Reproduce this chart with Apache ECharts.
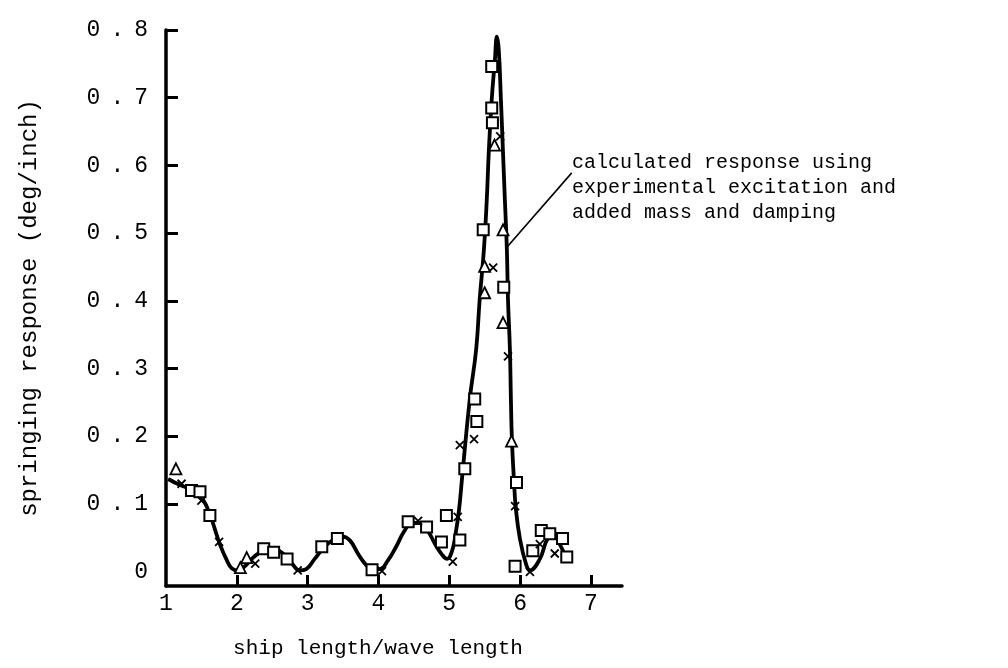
<!DOCTYPE html>
<html>
<head>
<meta charset="utf-8">
<script src="https://cdn.jsdelivr.net/npm/echarts@6/dist/echarts.min.js"></script>
<style>
  html, body { margin: 0; padding: 0; background: #fff; }
  #chart { width: 1008px; height: 668px; }
</style>
</head>
<body>
<div id="chart"></div>
<script>
// Calculated springing response curve
const curveX = [1.03, 1.20, 1.41, 1.52, 1.62, 1.69, 1.76, 1.85, 1.93, 2.02, 2.12, 2.21, 2.33, 2.44, 2.54, 2.65, 2.78, 2.89, 2.98,
  3.10, 3.24, 3.39, 3.50, 3.60, 3.71, 3.81, 3.91, 4.02, 4.13, 4.25, 4.36, 4.47, 4.59, 4.70, 4.80, 4.90, 4.97,
  5.04, 5.09, 5.14, 5.18, 5.29, 5.38, 5.43, 5.49, 5.53, 5.56, 5.60, 5.645, 5.673, 5.70, 5.73, 5.758, 5.786, 5.814,
  5.83, 5.857, 5.871, 5.885, 5.913, 5.941, 5.998, 6.083, 6.14, 6.28, 6.39, 6.49, 6.56, 6.65];
const curveY = [0.137, 0.128, 0.119, 0.107, 0.085, 0.063, 0.041, 0.019, 0.005, 0.002, 0.009, 0.019, 0.029, 0.035, 0.034, 0.027, 0.012, 0.002, 0.004,
  0.019, 0.037, 0.049, 0.052, 0.046, 0.027, 0.012, 0.004, 0.004, 0.016, 0.037, 0.059, 0.072, 0.072, 0.060, 0.041, 0.025, 0.019,
  0.031, 0.056, 0.093, 0.137, 0.255, 0.328, 0.402, 0.476, 0.549, 0.623, 0.697, 0.756, 0.790, 0.770, 0.697, 0.623, 0.549, 0.476,
  0.402, 0.328, 0.255, 0.196, 0.137, 0.093, 0.049, 0.012, 0.002, 0.019, 0.049, 0.056, 0.041, 0.022];

// Measured responses, one array pair per marker type
const squareX = [1.36, 1.48, 1.62, 2.38, 2.52, 2.71, 3.20, 3.42, 3.91, 4.42, 4.68, 4.89, 4.96, 5.15, 5.22, 5.36, 5.39,
  5.48, 5.60, 5.60, 5.61, 5.77, 5.95, 5.93, 6.18, 6.30, 6.42, 6.60, 6.66];
const squareY = [0.120, 0.118, 0.083, 0.034, 0.029, 0.019, 0.037, 0.049, 0.003, 0.074, 0.066, 0.044, 0.083, 0.047, 0.152, 0.255, 0.222,
  0.505, 0.746, 0.685, 0.663, 0.420, 0.132, 0.008, 0.031, 0.061, 0.056, 0.049, 0.022];

const triangleX = [1.14, 2.05, 2.14, 5.50, 5.50, 5.64, 5.76, 5.76, 5.88];
const triangleY = [0.152, 0.006, 0.021, 0.451, 0.412, 0.630, 0.505, 0.368, 0.193];

const crossX = [1.22, 1.50, 1.75, 2.26, 2.86, 4.05, 4.56, 5.05, 5.12, 5.15, 5.35, 5.62, 5.72, 5.83, 5.93, 6.14, 6.28, 6.49];
const crossY = [0.130, 0.105, 0.044, 0.012, 0.002, 0.001, 0.075, 0.015, 0.081, 0.187, 0.196, 0.449, 0.643, 0.318, 0.097, 0.000, 0.041, 0.027];

// Axis ticks and labels
const xLabelValues = [1, 2, 3, 4, 5, 6, 7];
const xTickValues = [2, 3, 4, 5, 6, 7];
const yLabelValues = [0, 0.1, 0.2, 0.3, 0.4, 0.5, 0.6, 0.7, 0.8];
const yTickValues = [0.1, 0.2, 0.3, 0.4, 0.5, 0.6, 0.7, 0.8];

// Callout text and its leader line (start near the text, end on the curve)
const noteLines = ['calculated response using', 'experimental excitation and', 'added mass and damping'];
const leaderFrom = [6.73, 0.589];
const leaderTo = [5.82, 0.48];

const FONT = '"Liberation Mono", "DejaVu Sans Mono", monospace';
const zip = (xs, ys) => xs.map((x, i) => [x, ys[i]]);

const chart = echarts.init(document.getElementById('chart'), null, { renderer: 'canvas' });

chart.setOption({
  backgroundColor: '#ffffff',
  animation: false,
  grid: { left: 166, right: 386, top: 30, bottom: 82, containLabel: false },
  xAxis: {
    type: 'value',
    min: 1,
    max: 7.44,
    name: 'ship length/wave length',
    nameLocation: 'middle',
    nameGap: 52,
    nameTextStyle: { fontFamily: FONT, fontSize: 21, color: '#000', padding: [0, 32, 0, 0] },
    axisLine: { show: true, onZero: false, lineStyle: { color: '#000', width: 3.5 } },
    axisTick: { show: true, inside: true, length: 11, customValues: xTickValues, lineStyle: { color: '#000', width: 3 } },
    axisLabel: { customValues: xLabelValues, margin: 6, fontFamily: FONT, fontSize: 23, color: '#000' },
    splitLine: { show: false }
  },
  yAxis: {
    type: 'value',
    min: -0.021,
    max: 0.8,
    name: 'springing response (deg/inch)',
    nameLocation: 'middle',
    nameGap: 124,
    nameTextStyle: { fontFamily: FONT, fontSize: 24, color: '#000' },
    axisLine: { show: true, onZero: false, lineStyle: { color: '#000', width: 3.5 } },
    axisTick: { show: true, inside: true, length: 12, customValues: yTickValues, lineStyle: { color: '#000', width: 3 } },
    axisLabel: {
      customValues: yLabelValues,
      margin: 18,
      fontFamily: FONT,
      fontSize: 23,
      color: '#000',
      formatter: function (v) {
        if (Math.abs(v) < 1e-9) return '0';
        const s = v.toFixed(1);
        return '{d|' + s[0] + '}{p|.}{d|' + s[2] + '}';
      },
      rich: {
        d: { fontFamily: FONT, fontSize: 23, color: '#000' },
        p: { fontFamily: FONT, fontSize: 23, color: '#000', padding: [0, 10, 0, 10] }
      }
    },
    splitLine: { show: false }
  },
  graphic: [{
    type: 'text',
    left: 572,
    top: 150,
    style: {
      text: noteLines.join('\n'),
      font: '20px ' + FONT,
      lineHeight: 25,
      fill: '#000'
    },
    silent: true
  }],
  series: [
    {
      name: 'calculated',
      type: 'line',
      data: zip(curveX, curveY),
      showSymbol: false,
      smooth: 0.45,
      lineStyle: { color: '#000', width: 3.8 },
      z: 2,
      markLine: {
        silent: true,
        symbol: ['none', 'none'],
        label: { show: false },
        lineStyle: { color: '#000', width: 1.6, type: 'solid' },
        data: [[{ coord: leaderFrom }, { coord: leaderTo }]]
      }
    },
    {
      name: 'squares',
      type: 'scatter',
      data: zip(squareX, squareY),
      symbol: 'rect',
      symbolSize: 11,
      itemStyle: { color: '#fff', borderColor: '#000', borderWidth: 2, opacity: 1 },
      z: 3
    },
    {
      name: 'triangles',
      type: 'scatter',
      data: zip(triangleX, triangleY),
      symbol: 'triangle',
      symbolSize: 11,
      itemStyle: { color: '#fff', borderColor: '#000', borderWidth: 1.8, opacity: 1 },
      z: 3
    },
    {
      name: 'crosses',
      type: 'scatter',
      data: zip(crossX, crossY),
      symbol: 'path://M0,0L10,10M10,0L0,10',
      symbolSize: 8,
      itemStyle: { color: 'none', borderColor: '#000', borderWidth: 1.8, opacity: 1 },
      z: 4
    }
  ]
});
</script>
</body>
</html>
